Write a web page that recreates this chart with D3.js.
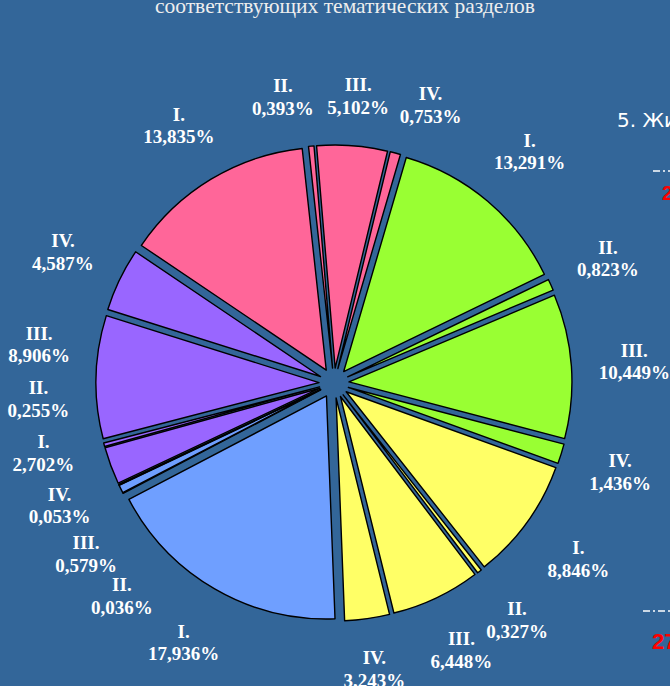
<!DOCTYPE html>
<html>
<head>
<meta charset="utf-8">
<script src="https://cdn.jsdelivr.net/npm/d3@7"></script>
<style>
  html, body { margin: 0; padding: 0; background: #336699; overflow: hidden; }
  svg { display: block; }
</style>
</head>
<body>
<svg id="chart" width="670" height="686"></svg>
<script>
// ---- data ----
const partLabels = ["I.", "II.", "III.", "IV."];
const section1 = [13.835, 0.393, 5.102, 0.753];
const section2 = [13.291, 0.823, 10.449, 1.436];
const section3 = [8.846, 0.327, 6.448, 3.243];
const section4 = [17.936, 0.036, 0.579, 0.053];
const section5 = [2.702, 0.255, 8.906, 4.587];
const sectionColors = ["#FF6699", "#99FF33", "#FFFF66", "#6F9FFF", "#9966FF"];
const titleText = "соответствующих тематических разделов";
const sideTitle = "5. Жи";
const sideNumbers = ["2", "27"];

const sections = [section1, section2, section3, section4, section5];
const rows = [];
sections.forEach((vals, si) => vals.forEach((v, pi) => rows.push({ section: si, part: partLabels[pi], value: v })));

// ---- layout ----
const W = 670, H = 686;
const cx = 334, cy = 383;
const R = 223, explode = 15;
const svg = d3.select("#chart");
svg.append("rect").attr("width", W).attr("height", H).attr("fill", "#336699");

svg.append("text")
  .attr("x", 345).attr("y", 13)
  .attr("text-anchor", "middle")
  .attr("font-family", "'Liberation Serif', 'Times New Roman', serif")
  .attr("font-size", 21.5)
  .attr("fill", "#EEEEEE")
  .text(titleText);

const start = -56 * Math.PI / 180;
const pie = d3.pie().sort(null).value(d => d.value).startAngle(start).endAngle(start + 2 * Math.PI);
const arcs = pie(rows);
const arc = d3.arc().innerRadius(0).outerRadius(R);

const g = svg.append("g").attr("transform", `translate(${cx},${cy})`);
g.selectAll("path.slice").data(arcs).join("path")
  .attr("class", "slice")
  .attr("d", arc)
  .attr("transform", d => {
    const m = (d.startAngle + d.endAngle) / 2;
    return `translate(${explode * Math.sin(m)},${-explode * Math.cos(m)})`;
  })
  .attr("fill", d => sectionColors[d.data.section])
  .attr("stroke", "#000")
  .attr("stroke-width", 1.4)
  .attr("stroke-linejoin", "round");

// ---- labels ----
const fmt = v => d3.format(".3f")(v).replace(".", ",") + "%";
const labels = g.selectAll("g.lab").data(arcs).join("g").attr("class", "lab");
labels.append("text").attr("y", -5)
  .attr("text-anchor", "middle")
  .attr("font-family", "'Liberation Serif', 'Times New Roman', serif")
  .attr("font-weight", "bold").attr("font-size", 19).attr("fill", "#fff")
  .text(d => d.data.part);
labels.append("text").attr("class", "val").attr("y", 17.5)
  .attr("text-anchor", "middle")
  .attr("font-family", "'Liberation Serif', 'Times New Roman', serif")
  .attr("font-weight", "bold").attr("font-size", 19).attr("fill", "#fff")
  .text(d => fmt(d.data.value));

const halfW = [];
labels.select("text.val").each(function () { halfW.push(this.getComputedTextLength() / 2); });

// spread label angles so labels don't collide
const TAU = 2 * Math.PI;
const sideSep = 10.5 * Math.PI / 180, topSep = 15 * Math.PI / 180;
const labelR = (a, hw) => 264 + hw * Math.abs(Math.sin(a)) + 21 * Math.abs(Math.cos(a));
const needSep = a => Math.max(sideSep, topSep * Math.cos(a) * Math.cos(a));
const ang = arcs.map(d => (d.startAngle + d.endAngle) / 2);
for (let it = 0; it < 600; it++) {
  for (let i = 0; i < ang.length; i++) {
    const j = (i + 1) % ang.length;
    let diff = ang[j] - ang[i];
    if (j === 0) diff += TAU;
    const sep = needSep(ang[i] + diff / 2);
    if (diff < sep) {
      const push = (sep - diff) / 2 * 0.5;
      ang[i] -= push; ang[j] += push;
    }
  }
}
labels.attr("transform", (d, i) => {
  const a = ang[i];
  const r = labelR(a, halfW[i]);
  return `translate(${r * Math.sin(a)},${-r * Math.cos(a)})`;
});

// ---- partially visible neighbouring chart at right edge ----
svg.append("text").attr("x", 617).attr("y", 127)
  .attr("font-family", "'DejaVu Sans', sans-serif").attr("font-size", 20).attr("fill", "#fff")
  .text(sideTitle);
[[653, 171], [643, 611]].forEach(([x, y]) => {
  svg.append("line").attr("x1", x).attr("x2", W).attr("y1", y).attr("y2", y)
    .attr("stroke", "#fff").attr("stroke-width", 1.3).attr("stroke-dasharray", "7,3,2,3");
});
svg.append("text").attr("x", 662).attr("y", 200)
  .attr("font-family", "'Liberation Sans', Arial, sans-serif").attr("font-weight", "bold")
  .attr("font-size", 20).attr("fill", "#FF0000").text(sideNumbers[0]);
svg.append("text").attr("x", 652).attr("y", 649)
  .attr("font-family", "'Liberation Sans', Arial, sans-serif").attr("font-weight", "bold")
  .attr("font-size", 22).attr("fill", "#FF0000").text(sideNumbers[1]);
</script>
</body>
</html>
